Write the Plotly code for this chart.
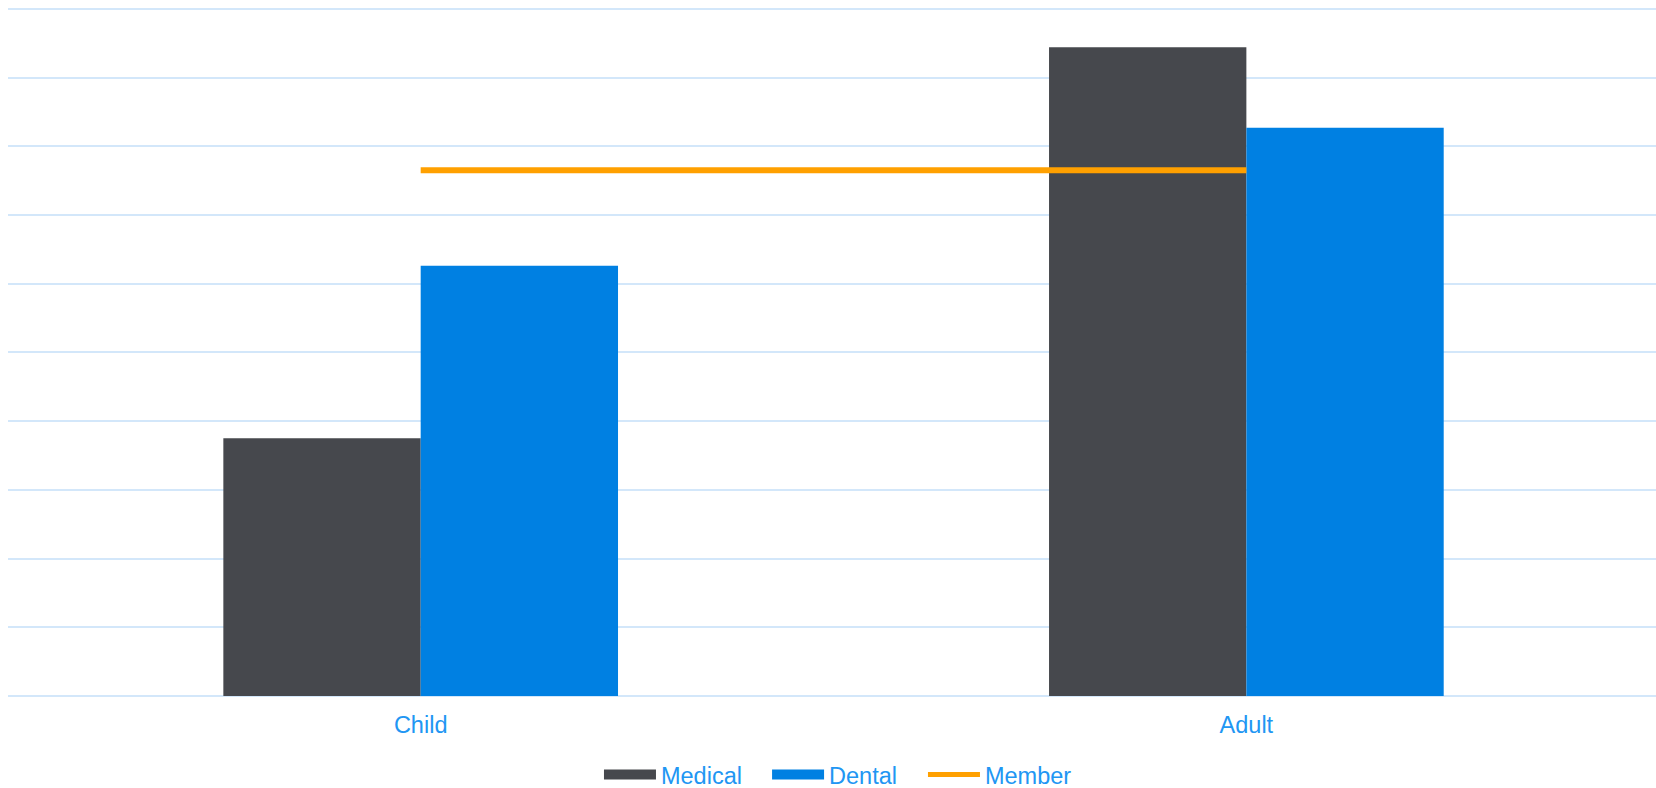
import plotly.graph_objects as go

categories = ["Child", "Adult"]
medical = [3.75, 9.44]
dental = [6.26, 8.27]
member = [7.65, 7.65]

BLUE_TEXT = "#2196F3"
GRID = "#d3e7fa"
MED_C = "#46484d"
DEN_C = "#0080e2"
MEM_C = "#ffa000"
FONT = "Liberation Sans, Arial, sans-serif"
FS = 23.5

fig = go.Figure()
fig.add_trace(go.Bar(name="Medical", x=categories, y=medical, legendgroup="med", showlegend=False,
                     marker=dict(color=MED_C, line=dict(width=0))))
fig.add_trace(go.Bar(name="Dental", x=categories, y=dental, legendgroup="den", showlegend=False,
                     marker=dict(color=DEN_C, line=dict(width=0))))
fig.add_trace(go.Scatter(name="Member", x=categories, y=member, mode="lines", legendgroup="mem",
                         showlegend=False, line=dict(color=MEM_C, width=6)))
# legend entries (wide swatches like the reference)
fig.add_trace(go.Scatter(name="Medical", x=[None], y=[None], mode="lines", legendgroup="med",
                         legend="legend", line=dict(color=MED_C, width=13)))
fig.add_trace(go.Scatter(name="Dental", x=[None], y=[None], mode="lines", legendgroup="den",
                         legend="legend2", line=dict(color=DEN_C, width=13)))
fig.add_trace(go.Scatter(name="Member", x=[None], y=[None], mode="lines", legendgroup="mem",
                         legend="legend3", line=dict(color=MEM_C, width=5)))

leg_common = dict(orientation="h", xanchor="left", y=-0.1135, yanchor="middle",
                  font=dict(family=FONT, size=FS, color=BLUE_TEXT), itemwidth=52,
                  bgcolor="rgba(0,0,0,0)")

fig.update_layout(
    width=1656, height=788,
    margin=dict(l=8, r=0, t=1.6, b=91.5, autoexpand=False),
    paper_bgcolor="white", plot_bgcolor="white",
    barmode="group", bargap=0.522, bargroupgap=0,
    font=dict(family=FONT, size=FS, color=BLUE_TEXT),
    showlegend=True,
    legend=dict(x=0.3586, **leg_common),
    legend2=dict(x=0.4606, **leg_common),
    legend3=dict(x=0.5552, **leg_common),
    xaxis=dict(range=[-0.4998, 1.4961], showgrid=False, showline=False, zeroline=False, ticks="",
               ticklabelstandoff=12, tickfont=dict(family=FONT, size=FS, color=BLUE_TEXT)),
    yaxis=dict(range=[0, 10.1], tickvals=list(range(0, 11)), showgrid=True, gridcolor=GRID, gridwidth=2,
               showticklabels=False, zeroline=True, zerolinecolor=GRID, zerolinewidth=2,
               showline=False),
)

fig.write_html("out.html", config={"displayModeBar": False},
               post_script="document.body.style.margin='0';document.body.style.overflow='hidden';")
